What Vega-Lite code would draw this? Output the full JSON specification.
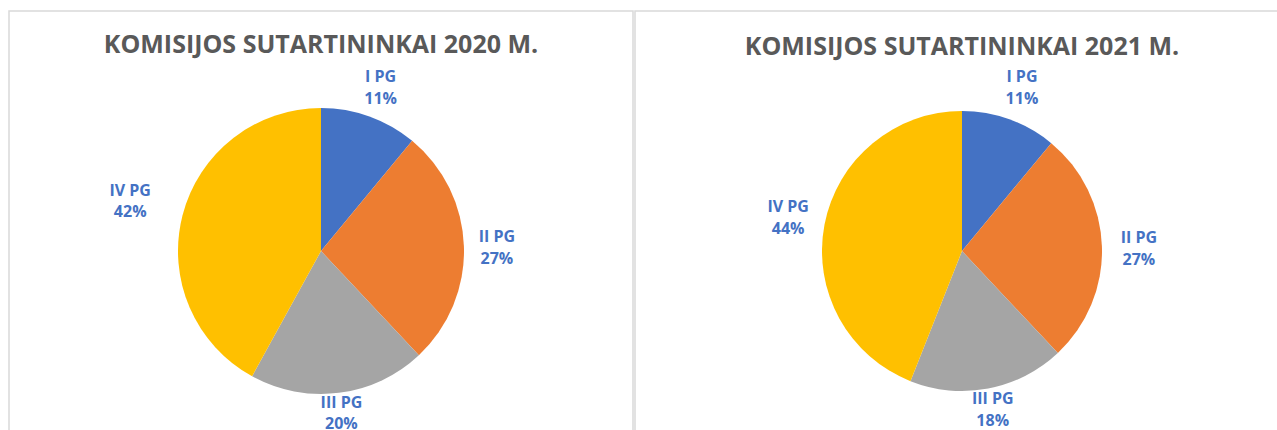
{
  "$schema": "https://vega.github.io/schema/vega-lite/v6.json",
  "padding": {"left": 8, "top": 10, "right": 0, "bottom": 0},
  "background": "white",
  "spacing": 0,
  "datasets": {
    "shares": [
      {"year": "2020", "cat": "I PG", "value": 0.11},
      {"year": "2020", "cat": "II PG", "value": 0.27},
      {"year": "2020", "cat": "III PG", "value": 0.20},
      {"year": "2020", "cat": "IV PG", "value": 0.42},
      {"year": "2021", "cat": "I PG", "value": 0.11},
      {"year": "2021", "cat": "II PG", "value": 0.27},
      {"year": "2021", "cat": "III PG", "value": 0.18},
      {"year": "2021", "cat": "IV PG", "value": 0.44}
    ]
  },
  "config": {
    "view": {"stroke": "#d9d9d9", "strokeWidth": 1},
    "title": {"font": "Open Sans", "fontSize": 25, "fontWeight": "bold", "color": "#595959", "anchor": "middle", "offset": -47},
    "text": {"font": "Open Sans", "fontSize": 16, "fontWeight": "bold", "color": "#4472C4"}
  },
  "hconcat": [
    {
      "width": 624,
      "height": 480,
      "view": {"stroke": "#d9d9d9", "strokeWidth": 1.5, "fill": "white"},
      "title": "KOMISIJOS SUTARTININKAI 2020 M.",
      "data": {"name": "shares"},
      "transform": [{"filter": "datum.year == '2020'"}],
      "encoding": {
        "theta": {"field": "value", "type": "quantitative", "stack": true},
        "order": {"field": "cat", "type": "nominal", "sort": "ascending"}
      },
      "layer": [
        {
          "mark": {"type": "arc", "outerRadius": 143},
          "encoding": {
            "color": {"field": "cat", "type": "nominal", "legend": null,
              "scale": {"domain": ["I PG", "II PG", "III PG", "IV PG"], "range": ["#4472C4", "#ED7D31", "#A5A5A5", "#FFC000"]}}
          }
        },
        {
          "mark": {"type": "text", "radius": 176, "dy": -8},
          "encoding": {"detail": {"field": "cat"}, "text": {"condition": {"test": "datum.cat == 'I PG' || datum.cat == 'II PG'", "field": "cat"}, "value": ""}}
        },
        {
          "mark": {"type": "text", "radius": 176, "dy": 14},
          "encoding": {"detail": {"field": "cat"}, "text": {"condition": {"test": "datum.cat == 'I PG' || datum.cat == 'II PG'", "field": "value", "type": "quantitative", "format": ".0%"}, "value": ""}}
        },
        {
          "mark": {"type": "text", "radius": 163, "dy": -10},
          "encoding": {"detail": {"field": "cat"}, "text": {"condition": {"test": "datum.cat == 'III PG'", "field": "cat"}, "value": ""}}
        },
        {
          "mark": {"type": "text", "radius": 163, "dy": 11},
          "encoding": {"detail": {"field": "cat"}, "text": {"condition": {"test": "datum.cat == 'III PG'", "field": "value", "type": "quantitative", "format": ".0%"}, "value": ""}}
        },
        {
          "mark": {"type": "text", "radius": 197, "dy": -11},
          "encoding": {"detail": {"field": "cat"}, "text": {"condition": {"test": "datum.cat == 'IV PG'", "field": "cat"}, "value": ""}}
        },
        {
          "mark": {"type": "text", "radius": 197, "dy": 10},
          "encoding": {"detail": {"field": "cat"}, "text": {"condition": {"test": "datum.cat == 'IV PG'", "field": "value", "type": "quantitative", "format": ".0%"}, "value": ""}}
        }
      ]
    },
    {
      "width": 654,
      "height": 480,
      "view": {"stroke": "#d9d9d9", "strokeWidth": 1.5, "fill": "white"},
      "title": {"text": "KOMISIJOS SUTARTININKAI 2021 M.", "offset": -49},
      "data": {"name": "shares"},
      "transform": [{"filter": "datum.year == '2021'"}],
      "encoding": {
        "theta": {"field": "value", "type": "quantitative", "stack": true},
        "order": {"field": "cat", "type": "nominal", "sort": "ascending"}
      },
      "layer": [
        {
          "mark": {"type": "arc", "outerRadius": 140},
          "encoding": {
            "color": {"field": "cat", "type": "nominal", "legend": null,
              "scale": {"domain": ["I PG", "II PG", "III PG", "IV PG"], "range": ["#4472C4", "#ED7D31", "#A5A5A5", "#FFC000"]}}
          }
        },
        {
          "mark": {"type": "text", "radius": 177, "dy": -7},
          "encoding": {"detail": {"field": "cat"}, "text": {"condition": {"test": "datum.cat == 'I PG' || datum.cat == 'II PG'", "field": "cat"}, "value": ""}}
        },
        {
          "mark": {"type": "text", "radius": 177, "dy": 15},
          "encoding": {"detail": {"field": "cat"}, "text": {"condition": {"test": "datum.cat == 'I PG' || datum.cat == 'II PG'", "field": "value", "type": "quantitative", "format": ".0%"}, "value": ""}}
        },
        {
          "mark": {"type": "text", "radius": 177, "dy": -11},
          "encoding": {"detail": {"field": "cat"}, "text": {"condition": {"test": "datum.cat == 'IV PG'", "field": "cat"}, "value": ""}}
        },
        {
          "mark": {"type": "text", "radius": 177, "dy": 11},
          "encoding": {"detail": {"field": "cat"}, "text": {"condition": {"test": "datum.cat == 'IV PG'", "field": "value", "type": "quantitative", "format": ".0%"}, "value": ""}}
        },
        {
          "mark": {"type": "text", "radius": 164, "dy": -13},
          "encoding": {"detail": {"field": "cat"}, "text": {"condition": {"test": "datum.cat == 'III PG'", "field": "cat"}, "value": ""}}
        },
        {
          "mark": {"type": "text", "radius": 164, "dy": 9},
          "encoding": {"detail": {"field": "cat"}, "text": {"condition": {"test": "datum.cat == 'III PG'", "field": "value", "type": "quantitative", "format": ".0%"}, "value": ""}}
        }
      ]
    }
  ]
}
